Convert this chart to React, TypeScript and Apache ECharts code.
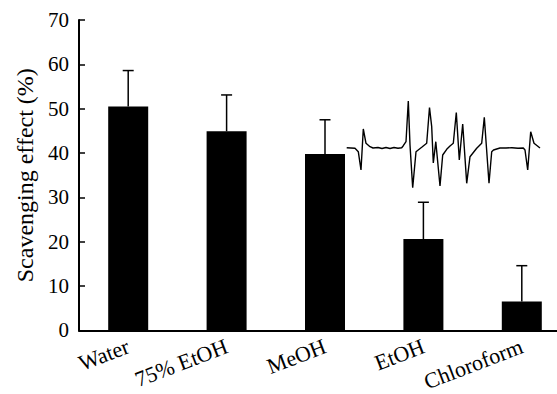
import React, { useEffect, useRef } from "react";
import * as echarts from "echarts";

const categories = ["Water", "75% EtOH", "MeOH", "EtOH", "Chloroform"];
const meanValues = [50.5, 44.9, 39.8, 20.6, 6.5];
const upperErrors = [58.6, 53.1, 47.5, 28.9, 14.6];
const yTicks = [0, 10, 20, 30, 40, 50, 60, 70];

// ESR spectrum inset (field in arbitrary units, signal in arbitrary units)
const specField = [0.7, 9, 12.3, 15, 17.3, 20, 24, 27, 32, 36, 40, 44, 48, 52, 55.7, 57.3, 60, 62.3, 64, 66.7, 70, 75.7, 80.7, 83.5, 85.7, 87.3, 89.8, 94, 96.7, 100.7, 104, 107.3, 110.3, 113.3, 116.7, 120.7, 124, 130.7, 135.7, 138.3, 140.5, 143, 145.7, 147.5, 150.7, 154, 160, 166, 172, 177.3, 179, 181.7, 184.7, 188, 194];
const specSignal = [0.3, -0.3, -3.7, -22, 19, 4.7, 1.3, 0, 0.5, -0.5, 0.5, -0.5, 0.5, -0.3, 0.3, 2.3, 6.3, 47, 3, -39.7, -3.7, 0.7, 4.7, 40.5, 21.3, -15, 6.3, -38, -7, -1.3, 2, 4.7, 35.5, -12, 24, -35.3, -8.7, -0.3, 4.7, 30.7, 0, -35.3, -3.7, -2, -1, 0, 0, 0.3, -0.3, 0, -2, -22, 16.3, 4.7, 0];

const FONT = "'Liberation Serif', 'Times New Roman', serif";

export default function App() {
  const ref = useRef<HTMLDivElement>(null);
  useEffect(() => {
    if (!ref.current) return;
    const chart = echarts.init(ref.current, null, { renderer: "svg" });
    const errData = categories.map((c, i) => [i, meanValues[i], upperErrors[i]]);
    const specData = specField.map((f, i) => [f, specSignal[i]]);
    chart.setOption({
      animation: false,
      backgroundColor: "#ffffff",
      grid: [
        { left: 79, top: 20, width: 492, height: 311 },
        { left: 346, top: 100, width: 194, height: 88 },
      ],
      xAxis: [
        {
          type: "category",
          gridIndex: 0,
          data: categories,
          boundaryGap: true,
          axisLine: { lineStyle: { color: "#000", width: 2 } },
          axisTick: { inside: true, length: 6, lineStyle: { color: "#000", width: 1.5 } },
          axisLabel: {
            rotate: 21,
            margin: 15,
            color: "#000",
            fontFamily: FONT,
            fontSize: 22,
            interval: 0,
          },
        },
        { type: "value", gridIndex: 1, min: 0, max: 194, show: false },
      ],
      yAxis: [
        {
          type: "value",
          gridIndex: 0,
          min: 0,
          max: 70,
          interval: 10,
          name: "Scavenging effect (%)",
          nameLocation: "middle",
          nameGap: 38,
          nameTextStyle: { color: "#000", fontFamily: FONT, fontSize: 24 },
          axisLine: { show: true, lineStyle: { color: "#000", width: 2 } },
          axisTick: { show: true, inside: true, length: 6, lineStyle: { color: "#000", width: 1.5 } },
          axisLabel: {
            color: "#000",
            fontFamily: FONT,
            fontSize: 21,
            margin: 10,
            formatter: (v: number) => (yTicks.includes(v) ? String(v) : ""),
          },
          splitLine: { show: false },
        },
        { type: "value", gridIndex: 1, min: -40, max: 48, show: false },
      ],
      series: [
        {
          type: "bar",
          xAxisIndex: 0,
          yAxisIndex: 0,
          data: meanValues,
          barWidth: 40,
          itemStyle: { color: "#000" },
          z: 2,
        },
        {
          type: "custom",
          xAxisIndex: 0,
          yAxisIndex: 0,
          data: errData,
          z: 1,
          renderItem: (params: any, api: any) => {
            const idx = api.value(0);
            const p0 = api.coord([idx, api.value(1)]);
            const p1 = api.coord([idx, api.value(2)]);
            const half = 5.5;
            return {
              type: "group",
              children: [
                {
                  type: "line",
                  shape: { x1: p0[0], y1: p0[1], x2: p1[0], y2: p1[1] },
                  style: { stroke: "#000", lineWidth: 1.5 },
                },
                {
                  type: "line",
                  shape: { x1: p1[0] - half, y1: p1[1], x2: p1[0] + half, y2: p1[1] },
                  style: { stroke: "#000", lineWidth: 1.5 },
                },
              ],
            };
          },
        },
        {
          type: "line",
          xAxisIndex: 1,
          yAxisIndex: 1,
          data: specData,
          showSymbol: false,
          lineStyle: { color: "#000", width: 1.4 },
          z: 3,
        },
      ],
    });
    return () => chart.dispose();
  }, []);
  return (
    <div
      style={{ position: "fixed", left: 0, top: 0, width: 557, height: 394, overflow: "hidden", background: "#fff" }}
    >
      <div ref={ref} style={{ width: 575, height: 394 }} />
    </div>
  );
}
